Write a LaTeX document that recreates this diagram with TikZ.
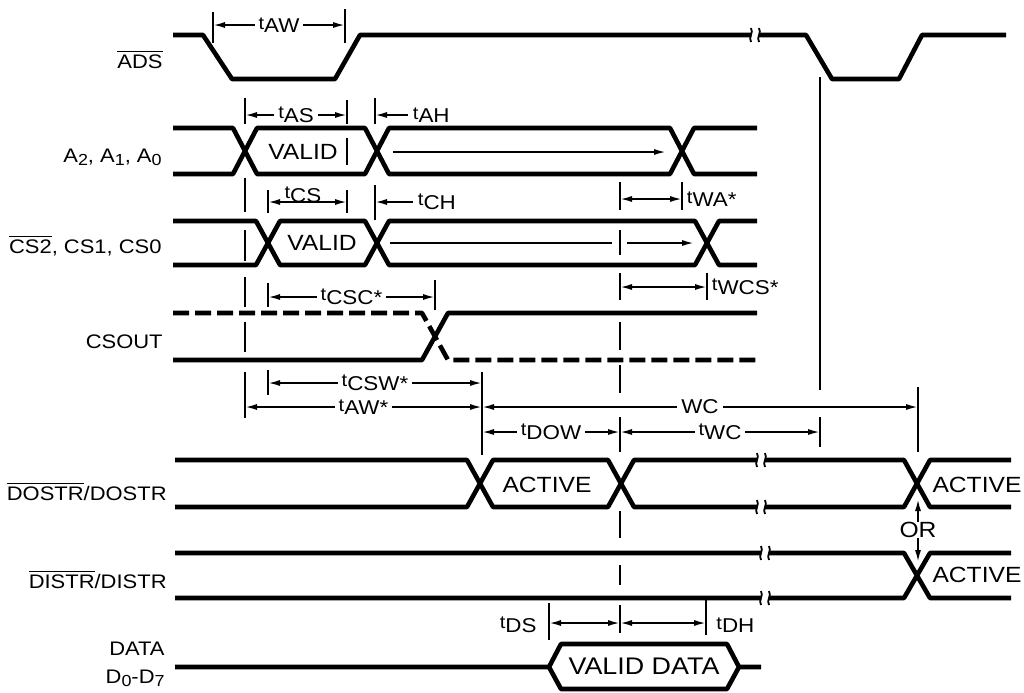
\documentclass[tikz,border=0pt]{standalone}
\usepackage{fontspec}
\setmainfont{Liberation Sans}[FakeStretch=1.12]
\usetikzlibrary{arrows.meta}
\newcommand{\tm}[1]{{\fontsize{9}{10}\selectfont t}\raisebox{-1.8pt}{#1}}
\newcommand{\lo}[1]{\raisebox{-1.6pt}{\fontsize{8}{9}\selectfont #1}}
\newcommand{\ovl}[1]{$\overline{\mbox{#1}}$}
\newcommand{\brk}[2]{%
  \draw[line width=0.9pt] (#1-4,#2-7) .. controls (#1-1,#2-2) and (#1-7,#2+2) .. (#1-4,#2+7);
  \draw[line width=0.9pt] (#1+4,#2-7) .. controls (#1+7,#2-2) and (#1+1,#2+2) .. (#1+4,#2+7);}

\begin{document}
\begin{tikzpicture}[x=0.5pt,y=-0.5pt,>={Latex[length=6pt,width=3pt]},
    sig/.style={line width=2.3pt,line join=round},
    dsig/.style={sig,dash pattern=on 8pt off 3pt},
    guide/.style={line width=0.9pt},
    dim/.style={line width=0.9pt},
    lab/.style={font=\fontsize{10}{11}\selectfont,inner xsep=2pt,inner ysep=0.3pt},
    txt/.style={font=\fontsize{11}{12}\selectfont,inner sep=0pt},
    sname/.style={font=\fontsize{9.8}{11}\selectfont,anchor=base east,inner sep=0pt}]
    \path[use as bounding box,fill=white] (0,0) rectangle (1024,692);

    % signal names
    \draw node at (163,68)[sname,name=ads]{\ovl{ADS}};
    \draw node at (162,162)[sname,name=addr]{A\lo{2}, A\lo{1}, A\lo{0}};
    \draw node at (162,253)[sname,name=cs]{\ovl{CS2}, CS1, CS0};
    \draw node at (163,348)[sname,name=csout]{CSOUT};
    \draw node at (167,500)[sname,name=dostr]{\ovl{DOSTR}/DOSTR};
    \draw node at (167,588)[sname,name=distr]{\ovl{DISTR}/DISTR};
    \draw node at (165,655)[sname,name=data]{DATA};
    \draw node at (165,683)[sname,name=dbus]{D\lo{0}-D\lo{7}};

    % reference lines
    \begin{scope}[guide]
    \draw (213,12) -- (213,43) (345,9) -- (345,43);
    \draw (245,98) -- (245,124) (245,178) -- (245,212) (245,230) -- (245,261)
          (245,277) -- (245,307) (245,322) -- (245,352) (245,372) -- (245,418);
    \draw (347,100) -- (347,124) (347,138) -- (347,165) (347,190) -- (347,213);
    \draw (375,98) -- (375,124) (375,185) -- (375,220);
    \draw (268,190) -- (268,213) (268,283) -- (268,307) (268,370) -- (268,395);
    \draw (435,280) -- (435,310);
    \draw (482,372) -- (482,455);
    \draw (620,182) -- (620,210) (620,230) -- (620,255) (620,273) -- (620,300)
          (620,322) -- (620,350) (620,365) -- (620,393) (620,417) -- (620,452)
          (620,511) -- (620,538) (620,565) -- (620,585) (620,605) -- (620,633);
    \draw (682,182) -- (682,210);
    \draw (707,273) -- (707,300);
    \draw (820,77) -- (820,390) (820,417) -- (820,447);
    \draw (918,387) -- (918,452);
    \draw (549,603) -- (549,640) (706,600) -- (706,635);
    \end{scope}

    % timing parameters
    \draw[dim,<->] (213,25) -- node[lab,fill=white,name=taw]{\tm{AW}} (345,25);
    \draw[dim,<->] (245,115) -- node[lab,fill=white,name=tas]{\tm{AS}} (347,115);
    \draw[dim,<-] (375,115) -- (408,115) node[lab,anchor=west,name=tah]{\tm{AH}};
    \draw[dim,<->] (268,202) -- (347,202);
    \draw node at (303,203)[lab,anchor=south,inner sep=0pt,name=tcs]{\tm{CS}};
    \draw[dim,<-] (375,202) -- (413,202) node[lab,anchor=west,name=tch]{\tm{CH}};
    \draw[dim,->] (393,152) -- (666,152);
    \draw[dim] (390,243) -- (612,243);
    \draw[dim,->] (627,243) -- (694,243);
    \draw[dim,<->] (620,199) -- (682,199) node[lab,anchor=west,name=twa]{\tm{WA*}};
    \draw[dim,<->] (620,287) -- (707,287) node[lab,anchor=west,name=twcs]{\tm{WCS*}};
    \draw[dim,<->] (268,297) -- node[lab,fill=white,name=tcsc]{\tm{CSC*}} (435,297);
    \draw[dim,<->] (268,383) -- node[lab,fill=white,name=tcsw]{\tm{CSW*}} (482,383);
    \draw[dim,<->] (245,407) -- node[lab,fill=white,name=taws]{\tm{AW*}} (482,407);
    \draw[dim,<->] (482,407) -- node[lab,fill=white,name=wc]{WC} (918,407);
    \draw[dim,<->] (482,432) -- node[lab,fill=white,name=tdow]{\tm{DOW}} (620,432);
    \draw[dim,<->] (620,432) -- node[lab,fill=white,name=twc]{\tm{WC}} (820,432);
    \draw[dim,<->] (549,623) -- (620,623);
    \draw[dim,<->] (620,623) -- (706,623);
    \draw node at (541,625)[lab,anchor=east,name=tds]{\tm{DS}};
    \draw node at (712,625)[lab,anchor=west,name=tdh]{\tm{DH}};

    % waveforms
    \draw[sig] (173,35) -- (203,35) -- (232,79) -- (335,79) -- (360,35) -- (751,35);
    \draw[sig] (759,35) -- (806,35) -- (832,79) -- (899,79) -- (922,35) -- (1006,35);
    \brk{755}{35}
    \draw[sig] (173,128) -- (233,128) -- (257,174) -- (365,174) -- (389,128) -- (670,128) -- (694,174) -- (757,174);
    \draw[sig] (173,174) -- (233,174) -- (257,128) -- (365,128) -- (389,174) -- (670,174) -- (694,128) -- (757,128);
    \draw[sig] (173,221) -- (256,221) -- (280,265) -- (365,265) -- (389,221) -- (695,221) -- (719,265) -- (757,265);
    \draw[sig] (173,265) -- (256,265) -- (280,221) -- (365,221) -- (389,265) -- (695,265) -- (719,221) -- (757,221);
    \draw[sig] (173,360) -- (422,360) -- (448,313) -- (757,313);
    \draw[dsig] (173,313) -- (422,313) -- (448,360) -- (757,360);
    \draw[sig] (175,460) -- (467,460) -- (493,507) -- (608,507) -- (634,460) -- (757,460);
    \draw[sig] (765,460) -- (904,460) -- (930,507) -- (1011,507);
    \draw[sig] (175,507) -- (467,507) -- (493,460) -- (608,460) -- (634,507) -- (757,507);
    \draw[sig] (765,507) -- (904,507) -- (930,460) -- (1011,460);
    \brk{761}{460} \brk{761}{507}
    \draw[sig] (175,553) -- (761,553) (769,553) -- (904,553) -- (930,598) -- (1011,598);
    \draw[sig] (175,598) -- (761,598) (769,598) -- (904,598) -- (930,553) -- (1011,553);
    \brk{765}{553} \brk{765}{598}
    \draw[sig] (175,667) -- (549,667) -- (561,644) -- (727,644) -- (739,667) -- (761,667);
    \draw[sig] (549,667) -- (561,689) -- (727,689) -- (739,667);

    \draw node at (303,152)[txt,name=avalid]{VALID};
    \draw node at (322,243)[txt,name=csvalid]{VALID};
    \draw node at (547,485)[txt,name=act]{ACTIVE};
    \draw node at (977,485)[txt,name=actout]{ACTIVE};
    \draw node at (977,575)[txt,name=actin]{ACTIVE};
    \draw node at (644,666)[txt,font=\fontsize{12}{14}\selectfont,name=vdata]{VALID DATA};
    \draw node at (918,530)[txt,name=or]{OR};
    \draw[dim,->] (or) -- (918,499);
    \draw[dim,->] (or) -- (918,562);
\end{tikzpicture}
\end{document}
